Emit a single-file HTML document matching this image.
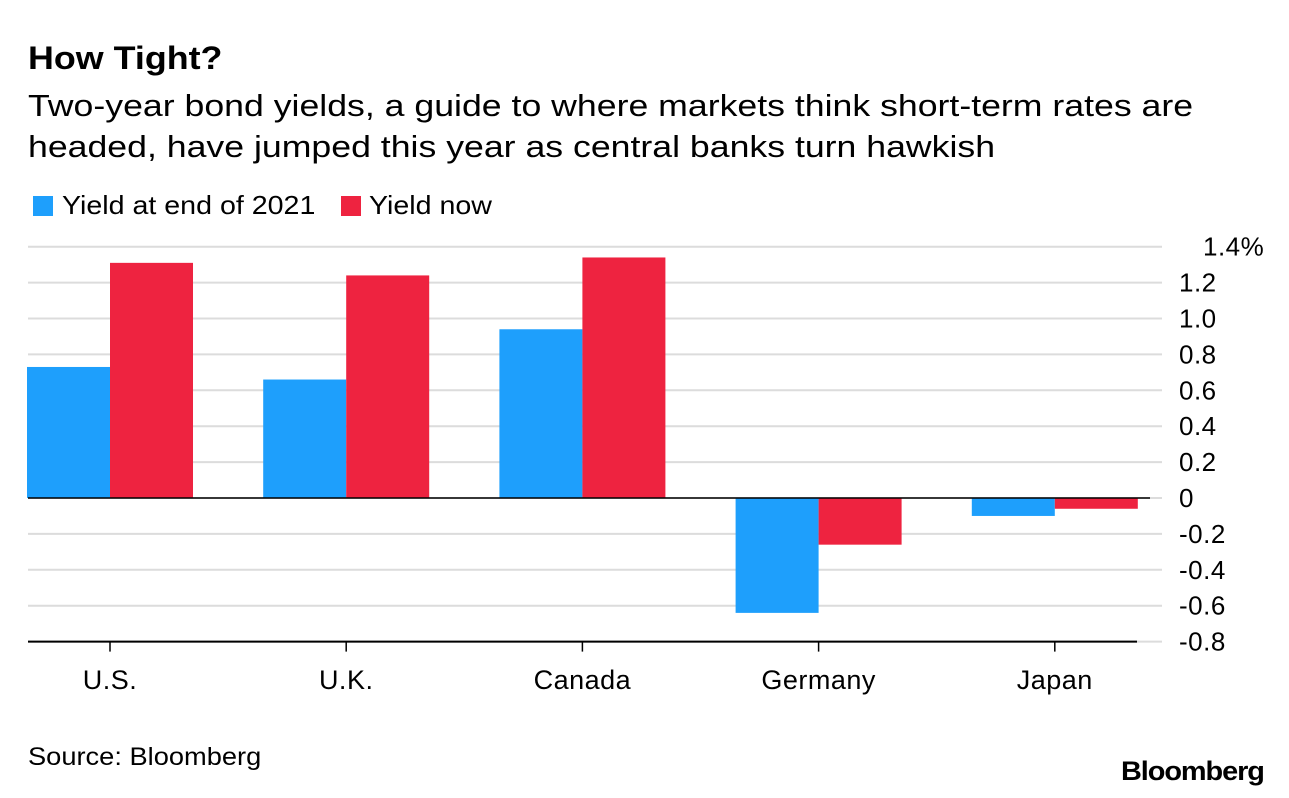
<!DOCTYPE html>
<html><head><meta charset="utf-8"><style>
body{margin:0;background:#fff;font-family:"Liberation Sans",sans-serif;}
#wrap{position:relative;width:1289px;height:798px;overflow:hidden;}
.t{position:absolute;color:#000;white-space:nowrap;transform-origin:0 0;}
</style></head><body>
<div id="wrap">
<div class="t" style="left:28px;top:40px;font-size:32px;font-weight:bold;transform:scaleX(1.12);">How Tight?</div>
<div class="t" style="left:28px;top:85px;font-size:31px;line-height:41px;transform:scaleX(1.15);">Two-year bond yields, a guide to where markets think short-term rates are<br>headed, have jumped this year as central banks turn hawkish</div>
<div style="position:absolute;left:33px;top:196px;width:20px;height:20px;background:#1e9ffc"></div>
<div class="t" style="left:62px;top:190px;font-size:26px;transform:scaleX(1.1);">Yield at end of 2021</div>
<div style="position:absolute;left:341px;top:196px;width:20px;height:20px;background:#ee2340"></div>
<div class="t" style="left:369px;top:190px;font-size:26px;transform:scaleX(1.1);">Yield now</div>
<svg id="chart" width="1289" height="798" style="position:absolute;left:0;top:0"></svg>
<div class="t" style="left:28px;top:743px;font-size:25px;transform:scaleX(1.09);">Source: Bloomberg</div>
<div class="t" style="left:1121px;top:756px;font-size:27px;font-weight:bold;letter-spacing:-1px;transform:scaleX(1.07);">Bloomberg</div>
</div>
<script>
const categories=["U.S.","U.K.","Canada","Germany","Japan"];
const yield2021=[0.73,0.66,0.94,-0.64,-0.10];
const yieldNow=[1.31,1.24,1.34,-0.26,-0.06];
const ticks=[1.4,1.2,1.0,0.8,0.6,0.4,0.2,0,-0.2,-0.4,-0.6,-0.8];
const tickLabels=["1.4%","1.2","1.0","0.8","0.6","0.4","0.2","0","-0.2","-0.4","-0.6","-0.8"];
const svg=document.getElementById('chart');
const NS='http://www.w3.org/2000/svg';
function y(v){return 498-v*179.5;}
function xc(i){return 110+i*236.2;}
const bw=83;
function mk(tag,attrs){const e=document.createElementNS(NS,tag);for(const k in attrs)e.setAttribute(k,attrs[k]);svg.appendChild(e);return e;}
ticks.forEach((t,i)=>{
  const g=mk('line',{x1:28,x2:1162,y1:y(t),y2:y(t),stroke:'#dcdcdc','stroke-width':2});
  
  
  const lb=mk('text',{x:tickLabels[i].includes('%')?1203:1179,y:y(t)+9,'font-size':26,fill:'#000','font-family':'Liberation Sans, sans-serif','letter-spacing':'0.5'});
  lb.textContent=tickLabels[i];
  
  
});
categories.forEach((c,i)=>{
  const v1=yield2021[i],v2=yieldNow[i];
  const b1=mk('rect',{x:xc(i)-bw,y:Math.min(y(v1),y(0)),width:bw,height:Math.abs(y(v1)-y(0)),fill:'#1e9ffc'});
  
  
  const b2=mk('rect',{x:xc(i),y:Math.min(y(v2),y(0)),width:bw,height:Math.abs(y(v2)-y(0)),fill:'#ee2340'});
  
  
  const tk=mk('line',{x1:xc(i),x2:xc(i),y1:y(-0.8),y2:y(-0.8)+10,stroke:'#000','stroke-width':1.5});
  
  
  const lb=mk('text',{x:xc(i),y:689,'font-size':27,'text-anchor':'middle',fill:'#000','font-family':'Liberation Sans, sans-serif','letter-spacing':'0.5'});
  lb.textContent=c;
  
  
});
const z=mk('line',{x1:28,x2:1150,y1:y(0),y2:y(0),stroke:'#000','stroke-width':1.5});


const ax=mk('line',{x1:28,x2:1137,y1:y(-0.8),y2:y(-0.8),stroke:'#000','stroke-width':2});


</script>
</body></html>
